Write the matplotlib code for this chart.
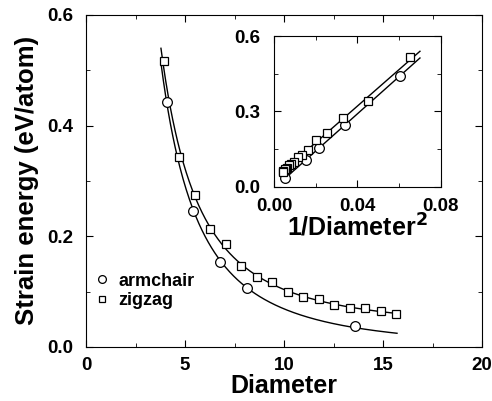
import numpy as np
import matplotlib
matplotlib.use('Agg')
import matplotlib.pyplot as plt
from matplotlib.ticker import MultipleLocator

plt.rcParams['font.family'] = ['Liberation Sans', 'DejaVu Sans']
plt.rcParams['font.weight'] = 'bold'
plt.rcParams['mathtext.default'] = 'bf'

# tube diameters and strain energies
d_arm = [4.07, 5.42, 6.78, 8.14, 13.56]
e_arm = [0.443, 0.245, 0.154, 0.106, 0.037]
d_zig = [3.91, 4.70, 5.48, 6.26, 7.05, 7.83, 8.61, 9.39, 10.18, 10.96,
         11.74, 12.53, 13.31, 14.09, 14.87, 15.66]
e_zig = [0.516, 0.343, 0.275, 0.213, 0.186, 0.147, 0.126, 0.118, 0.099, 0.090,
         0.087, 0.076, 0.071, 0.070, 0.064, 0.060]
fit_range = [3.78, 15.7]

d_arm = np.array(d_arm); e_arm = np.array(e_arm)
d_zig = np.array(d_zig); e_zig = np.array(e_zig)

# linear fit of energy vs 1/d^2
p_arm = np.polyfit(1/d_arm**2, e_arm, 1)
p_zig = np.polyfit(1/d_zig**2, e_zig, 1)
d_fit = np.linspace(fit_range[0], fit_range[1], 300)

def bold_ticks(a, size):
    for lab in a.get_xticklabels() + a.get_yticklabels():
        lab.set_fontweight('bold')
        lab.set_fontsize(size)

fig = plt.figure(figsize=(4.92, 4.01), dpi=100)
ax = fig.add_axes([0.175, 0.135, 0.805, 0.828])
mk = dict(mfc='white', mec='black', mew=0.9, ls='none')
ax.plot(d_fit, np.polyval(p_arm, 1/d_fit**2), color='black', lw=1)
ax.plot(d_fit, np.polyval(p_zig, 1/d_fit**2), color='black', lw=1)
ax.plot(d_arm, e_arm, 'o', ms=7, label='armchair', **mk)
ax.plot(d_zig, e_zig, 's', ms=6, label='zigzag', **mk)
ax.set_xlim(0, 20)
ax.set_ylim(0, 0.6)
ax.xaxis.set_major_locator(MultipleLocator(5))
ax.xaxis.set_minor_locator(MultipleLocator(2.5))
ax.yaxis.set_major_locator(MultipleLocator(0.2))
ax.yaxis.set_minor_locator(MultipleLocator(0.1))
ax.yaxis.set_major_formatter(plt.FormatStrFormatter('%.1f'))
ax.tick_params(which='both', direction='in', top=True, right=True)
ax.tick_params(which='major', length=5)
ax.tick_params(which='minor', length=3)
ax.tick_params(axis='x', pad=7)
ax.tick_params(axis='y', pad=9)
bold_ticks(ax, 13.5)
ax.set_xlabel('Diameter', fontsize=18, fontweight='bold', labelpad=0)
ax.set_ylabel('Strain energy (eV/atom)', fontsize=18.5, fontweight='bold', labelpad=6)
leg = ax.legend(loc='lower left', bbox_to_anchor=(0.0, 0.08), frameon=False,
                fontsize=13, markerscale=0.8, handlelength=0.6, handletextpad=0.6,
                labelspacing=0.15, borderaxespad=0.2)

ins = fig.add_axes([0.557, 0.534, 0.339, 0.376])
ins.plot(1/d_fit**2, np.polyval(p_arm, 1/d_fit**2), color='black', lw=1)
ins.plot(1/d_fit**2, np.polyval(p_zig, 1/d_fit**2), color='black', lw=1)
ins.plot(1/d_arm**2, e_arm, 'o', ms=7, **mk)
ins.plot(1/d_zig**2, e_zig, 's', ms=6, **mk)
ins.set_xlim(0, 0.08)
ins.set_ylim(0, 0.6)
ins.xaxis.set_major_locator(MultipleLocator(0.04))
ins.xaxis.set_minor_locator(MultipleLocator(0.02))
ins.yaxis.set_major_locator(MultipleLocator(0.3))
ins.yaxis.set_minor_locator(MultipleLocator(0.15))
ins.xaxis.set_major_formatter(plt.FormatStrFormatter('%.2f'))
ins.yaxis.set_major_formatter(plt.FormatStrFormatter('%.1f'))
ins.tick_params(which='both', direction='in', top=True, right=True)
ins.tick_params(which='major', length=5)
ins.tick_params(which='minor', length=3)
ins.tick_params(axis='x', pad=8)
ins.tick_params(axis='y', pad=10)
bold_ticks(ins, 13.5)
ins.set_xlabel(r'1/Diameter$^{2}$', fontsize=18, fontweight='bold', labelpad=-1)

fig.savefig('out.png', dpi=100)
